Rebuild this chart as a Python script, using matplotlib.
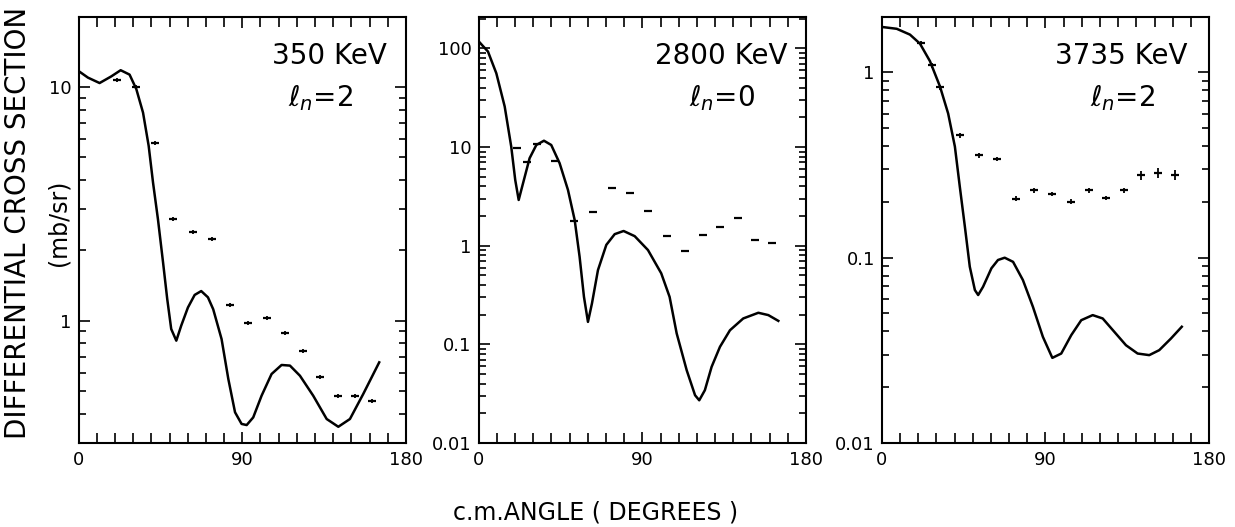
import numpy as np
import matplotlib.pyplot as plt
from matplotlib.ticker import LogLocator, FixedLocator, NullFormatter

plt.rcParams['mathtext.fontset'] = 'dejavusans'

# ---- 350 KeV, l_n = 2 ----
th1 = [0, 5.1, 11.5, 17.9, 23.1, 28.0, 31.7, 35.4, 38.5, 40.9, 43.6, 46.4, 48.7, 50.9,
       53.7, 56.4, 60.1, 63.8, 67.4, 71.1, 74.0, 78.6, 82.3, 86.0, 89.6, 92.4, 96.0,
       100.6, 106.1, 111.6, 116.2, 121.7, 129.0, 136.4, 142.8, 149.2, 156.5, 165.3]
sig1 = [11.7, 10.97, 10.4, 11.1, 11.8, 11.3, 9.8, 7.77, 5.6, 3.9, 2.72, 1.78, 1.24, 0.922,
        0.822, 0.953, 1.14, 1.29, 1.34, 1.26, 1.12, 0.835, 0.564, 0.406, 0.362, 0.358, 0.386,
        0.478, 0.592, 0.647, 0.643, 0.582, 0.478, 0.38, 0.352, 0.38, 0.486, 0.664]
dth1 = [20.9, 31.5, 41.9, 52.0, 63.0, 73.1, 83.2, 93.3, 103.4, 113.5, 123.5, 132.7, 142.8, 152.0, 161.4]
dsig1 = [10.7, 10.0, 5.75, 2.72, 2.39, 2.24, 1.17, 0.975, 1.03, 0.885, 0.745, 0.576, 0.478, 0.478, 0.455]
derr1 = [0.02] * 15

# ---- 2800 KeV, l_n = 0 ----
th2 = [0, 5.1, 9.7, 14.3, 17.9, 20.1, 22.0, 24.4, 28.0, 31.7, 35.9, 39.9, 44.5, 49.1,
       52.8, 55.5, 57.9, 60.1, 62.3, 65.6, 70.2, 74.8, 79.7, 85.8, 93.1, 100.4, 105.0,
       108.9, 114.4, 119.0, 121.3, 124.4, 128.1, 132.7, 138.2, 145.5, 153.8, 159.3, 164.8]
sig2 = [118, 93, 56, 25.8, 10.1, 4.64, 2.91, 4.3, 7.71, 10.5, 11.6, 10.5, 6.87, 3.68,
        1.82, 0.773, 0.303, 0.169, 0.26, 0.566, 1.02, 1.31, 1.41, 1.25, 0.904, 0.525, 0.303,
        0.129, 0.0547, 0.0305, 0.0271, 0.0343, 0.0591, 0.0944, 0.139, 0.183, 0.209, 0.198, 0.173]
dth2 = [20.9, 26.4, 31.9, 42.0, 52.4, 63.1, 73.3, 83.2, 93.3, 103.4, 113.5, 123.2, 132.7, 142.4, 152.0, 161.1]
dsig2 = [9.7, 7.0, 10.7, 7.3, 1.79, 2.21, 3.81, 3.44, 2.25, 1.25, 0.88, 1.28, 1.56, 1.92, 1.14, 1.07]
derr2 = [0.02] * 16

# ---- 3735 KeV, l_n = 2 ----
th3 = [0, 8.2, 15.5, 21.0, 26.5, 32.0, 36.5, 40.2, 42.9, 45.7, 48.4, 51.2, 53.0, 55.7,
       60.3, 63.9, 67.6, 72.2, 77.6, 83.1, 88.6, 93.8, 98.7, 104.2, 109.7, 116.0, 121.5,
       127.9, 134.3, 140.7, 147.1, 152.6, 159.0, 165.0]
sig3 = [1.76, 1.72, 1.60, 1.43, 1.15, 0.84, 0.60, 0.398, 0.242, 0.147, 0.0894, 0.0669,
        0.0629, 0.0697, 0.0877, 0.0972, 0.1, 0.095, 0.0758, 0.0544, 0.0374, 0.0288, 0.0304,
        0.0382, 0.046, 0.049, 0.047, 0.0398, 0.0337, 0.0304, 0.0298, 0.0317, 0.0366, 0.0424]
dth3 = [21.4, 27.4, 32.2, 42.9, 53.5, 63.4, 73.6, 83.7, 93.7, 103.8, 113.8, 123.3, 133.0, 142.5, 152.0, 161.1]
dsig3 = [1.44, 1.09, 0.83, 0.457, 0.358, 0.341, 0.208, 0.231, 0.221, 0.201, 0.231, 0.21, 0.231, 0.278, 0.288, 0.279]
derr3 = [0.03] * 13 + [0.06, 0.06, 0.06]

energies = ['350 KeV', '2800 KeV', '3735 KeV']
lvals = ['2', '0', '2']
ylims = [(0.3, 20), (0.01, 210), (0.01, 2.0)]
yticks = [[1, 10], [0.01, 0.1, 1, 10, 100], [0.01, 0.1, 1]]
yticklabels = [['1', '10'], ['0.01', '0.1', '1', '10', '100'], ['0.01', '0.1', '1']]

curves = [(th1, sig1), (th2, sig2), (th3, sig3)]
points = [(dth1, dsig1, derr1), (dth2, dsig2, derr2), (dth3, dsig3, derr3)]

fig = plt.figure(figsize=(12.35, 5.27), dpi=100)
lefts = [0.0637, 0.3876, 0.714]
text_x = [0.942, 0.945, 0.933]
l_x = [0.74, 0.743, 0.735]

for k in range(3):
    ax = fig.add_axes([lefts[k], 0.1594, 0.265, 0.809])
    th, sig = curves[k]
    ax.plot(th, sig, color='k', lw=1.8, solid_joinstyle='round')
    x, y, e = points[k]
    y = np.array(y)
    err = y * np.array(e)
    ax.errorbar(x, y, yerr=err, fmt='_', ms=6, mew=1.6, color='k',
                elinewidth=1.3, capsize=0)
    ax.set_yscale('log')
    ax.set_xlim(0, 180)
    ax.set_ylim(*ylims[k])
    ax.xaxis.set_major_locator(FixedLocator([0, 90, 180]))
    ax.xaxis.set_minor_locator(FixedLocator(np.arange(10, 180, 10)))
    ax.set_xticklabels(['0', '90', '180'])
    ax.yaxis.set_major_locator(FixedLocator(yticks[k]))
    ax.set_yticklabels(yticklabels[k])
    ax.yaxis.set_minor_locator(LogLocator(base=10, subs=np.arange(2, 10)))
    ax.yaxis.set_minor_formatter(NullFormatter())
    ax.tick_params(which='both', direction='in', top=True, right=True, width=1.2)
    ax.tick_params(which='major', length=8, labelsize=13)
    ax.tick_params(which='minor', length=5)
    ax.tick_params(axis='x', which='minor', length=7)
    ax.tick_params(axis='x', pad=6)
    ax.tick_params(axis='y', pad=5)
    for s in ax.spines.values():
        s.set_linewidth(1.5)
    ax.text(text_x[k], 0.908, energies[k], transform=ax.transAxes, ha='right',
            va='center', fontsize=20)
    ax.text(l_x[k], 0.81, r'$\ell_n$' + '=' + lvals[k], transform=ax.transAxes,
            ha='center', va='center', fontsize=20)

fig.text(0.0146, 0.577, 'DIFFERENTIAL CROSS SECTION', rotation=90, ha='center',
         va='center', fontsize=20)
fig.text(0.047, 0.577, '(mb/sr)', rotation=90, ha='center', va='center', fontsize=17)
fig.text(0.482, 0.028, 'c.m.ANGLE ( DEGREES )', ha='center', va='center', fontsize=17)

fig.savefig('out.png', dpi=100)
